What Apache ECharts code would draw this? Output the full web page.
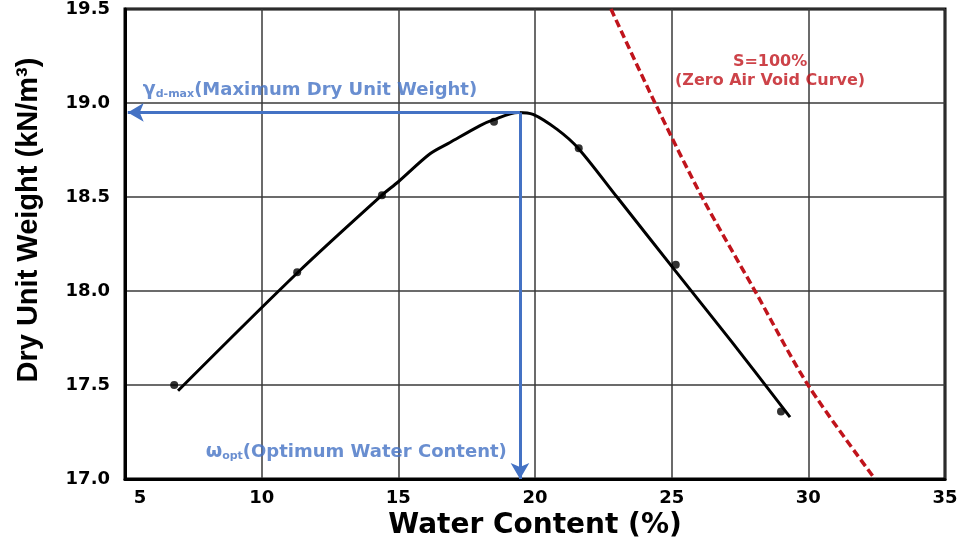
<!DOCTYPE html>
<html>
<head>
<meta charset="utf-8">
<script src="https://cdn.jsdelivr.net/npm/echarts@6/dist/echarts.min.js"></script>
<style>
  html, body { margin: 0; padding: 0; background: #fff; }
  #chart { width: 965px; height: 545px; }
</style>
</head>
<body>
<div id="chart"></div>
<script>
// Compaction test results: water content (%) vs dry unit weight (kN/m3)
const testWater  = [6.8, 11.3, 14.4, 18.5, 21.6, 25.15, 29.0];
const testWeight = [17.50, 18.10, 18.51, 18.90, 18.76, 18.14, 17.36];

// Fitted compaction curve
const curveWater  = [6.94, 11.33, 14.40, 14.99, 16.16, 16.89, 17.99, 18.47, 19.38, 19.93, 20.81, 21.58, 23.00, 25.12, 27.20, 29.33];
const curveWeight = [17.47, 18.10, 18.51, 18.58, 18.73, 18.79, 18.88, 18.91, 18.95, 18.94, 18.86, 18.76, 18.50, 18.11, 17.73, 17.33];

// Zero air void curve (S = 100%)
const zavWater  = [22.78, 24.39, 26.11, 28.05, 29.99, 32.44];
const zavWeight = [19.5, 19.0, 18.5, 18.0, 17.5, 17.0];

// Optimum point
const optWater = 19.45;
const maxDryWeight = 18.95;

const xTicks = [5, 10, 15, 20, 25, 30, 35];
const yTicks = [17.0, 17.5, 18.0, 18.5, 19.0, 19.5];

const zip = (a, b) => a.map((v, i) => [v, b[i]]);

const chart = echarts.init(document.getElementById('chart'));
const blue = '#4472C4';
const red = '#C0141C';
const labelFont = 'DejaVu Sans';

const noteRich = size => ({
  g: { fontFamily: labelFont, fontWeight: 'bold', fontSize: size + 1, color: blue },
  s: { fontFamily: labelFont, fontWeight: 'bold', fontSize: 11, color: blue, verticalAlign: 'bottom' },
  t: { fontFamily: labelFont, fontWeight: 'bold', fontSize: size, color: blue }
});

chart.setOption({
  animation: false,
  grid: { left: 125, right: 20, top: 8, bottom: 65, show: true, borderColor: '#000', borderWidth: 3, backgroundColor: 'transparent' },
  xAxis: {
    type: 'value', min: xTicks[0], max: xTicks[xTicks.length - 1], interval: 5,
    name: 'Water Content (%)', nameLocation: 'middle', nameGap: 24,
    nameTextStyle: { fontFamily: labelFont, fontWeight: 'bold', fontSize: 28, color: '#000' },
    axisLine: { show: true, lineStyle: { color: '#000', width: 3 } },
    axisTick: { show: false },
    axisLabel: {
      margin: 10, color: '#000', fontFamily: labelFont, fontWeight: 'bold', fontSize: 18,
      formatter: v => v === xTicks[0] ? '{p|' + v + '}' : String(v),
      rich: { p: { padding: [0, 0, 0, 30], fontFamily: labelFont, fontWeight: 'bold', fontSize: 18, color: '#000' } }
    },
    splitLine: { show: true, lineStyle: { color: '#3a3a3a', width: 1.5 } }
  },
  yAxis: {
    type: 'value', min: yTicks[0], max: yTicks[yTicks.length - 1], interval: 0.5,
    name: 'Dry Unit Weight (kN/m³)', nameLocation: 'middle', nameGap: 82,
    nameTextStyle: { fontFamily: 'Liberation Sans', fontWeight: 'bold', fontSize: 29, color: '#000', padding: [0, 0, 0, 48] },
    axisLine: { show: true, lineStyle: { color: '#000', width: 3 } },
    axisTick: { show: false },
    axisLabel: { margin: 15, color: '#000', fontFamily: labelFont, fontWeight: 'bold', fontSize: 18, formatter: v => v.toFixed(1) },
    splitLine: { show: true, lineStyle: { color: '#3a3a3a', width: 1.5 } }
  },
  series: [
    {
      name: 'Zero Air Void', type: 'line', data: zip(zavWater, zavWeight), smooth: 0.3,
      symbol: 'none', lineStyle: { color: red, width: 3.5, type: [8, 4] }, z: 3
    },
    {
      name: 'Compaction curve', type: 'line', data: zip(curveWater, curveWeight), smooth: 0.3,
      symbol: 'none', lineStyle: { color: '#000', width: 3 }, z: 4
    },
    {
      name: 'Test points', type: 'scatter', data: zip(testWater, testWeight),
      symbol: 'circle', symbolSize: 8, itemStyle: { color: '#000' }, z: 5
    },
    {
      name: 'Optimum', type: 'line', data: [], z: 6,
      markLine: {
        silent: true, animation: false,
        symbol: ['none', 'arrow'], symbolSize: [14, 16],
        lineStyle: { color: blue, width: 3, type: 'solid' },
        label: { show: false },
        data: [
          [{ coord: [optWater, maxDryWeight] }, { coord: [5.1, maxDryWeight] }],
          [{ coord: [optWater, maxDryWeight] }, { coord: [optWater, 17.0] }]
        ]
      }
    },
    {
      name: 'Notes', type: 'scatter', symbolSize: 0, z: 7, silent: true,
      data: [
        { value: [5.65, 19.07], label: {
            show: true, position: 'right', distance: 0,
            formatter: '{g|γ}{s|d-max}{t|(Maximum Dry Unit Weight)}',
            rich: noteRich(18) } },
        { value: [7.95, 17.145], label: {
            show: true, position: 'right', distance: 0,
            formatter: '{g|ω}{s|opt}{t|(Optimum Water Content)}',
            rich: noteRich(18) } },
        { value: [28.6, 19.17], label: {
            show: true, position: 'inside',
            formatter: 'S=100%\n(Zero Air Void Curve)',
            fontFamily: labelFont, fontWeight: 'bold', fontSize: 16, lineHeight: 19, color: red, align: 'center'
          } }
      ]
    }
  ]
});
</script>
</body>
</html>
